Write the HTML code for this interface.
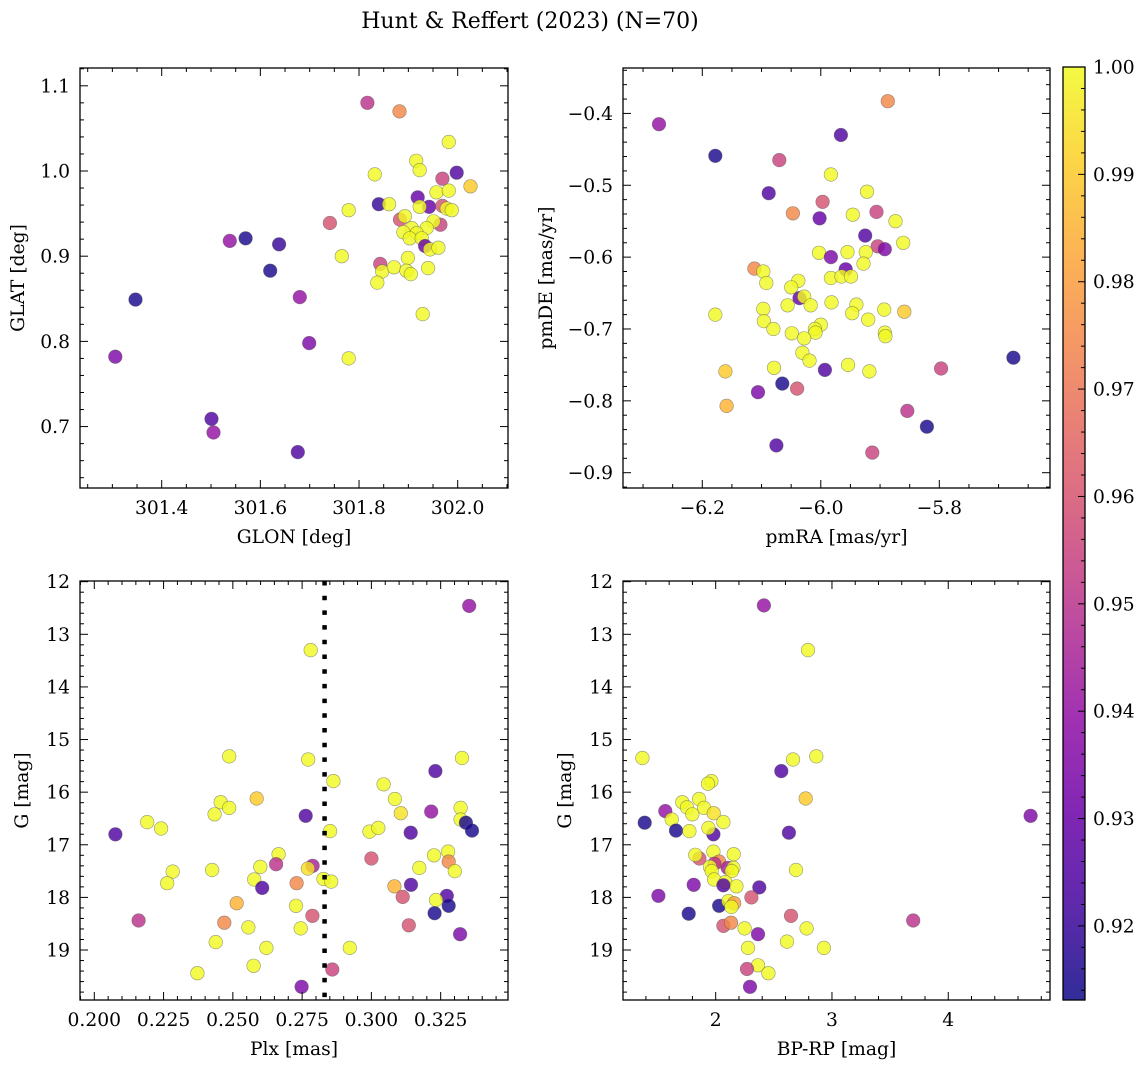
<!DOCTYPE html>
<html><head><meta charset="utf-8"><style>
body{margin:0;background:#fff;}
svg{display:block;font-family:"DejaVu Serif","Liberation Serif",serif;}
</style></head><body>
<svg id="fig" width="1148" height="1067" viewBox="0 0 1148 1067" xmlns="http://www.w3.org/2000/svg">
<text x="530" y="28" font-size="22" text-anchor="middle">Hunt &amp; Reffert (2023) (N=70)</text>
</svg>
<script>
// ---- Panel 1: GLON vs GLAT ----
const glonTL=[301.817,301.882,301.982,301.916,301.923,301.832,301.998,301.969,302.026,301.957,301.982,301.919,301.840,301.861,301.779,301.942,301.969,301.978,301.988,301.923,301.741,301.883,301.893,301.965,301.951,301.907,301.890,301.937,301.917,301.903,301.927,301.538,301.570,301.638,301.934,301.944,301.961,301.765,301.899,301.843,301.620,301.847,301.871,301.896,301.905,301.940,301.837,301.347,301.680,301.929,301.699,301.306,301.779,301.501,301.505,301.676];
const glatTL=[1.080,1.070,1.034,1.012,1.001,0.996,0.998,0.991,0.982,0.975,0.977,0.969,0.961,0.961,0.954,0.958,0.959,0.956,0.954,0.958,0.939,0.943,0.947,0.937,0.941,0.933,0.928,0.933,0.927,0.921,0.921,0.918,0.921,0.914,0.912,0.908,0.910,0.900,0.898,0.891,0.883,0.882,0.887,0.883,0.879,0.886,0.869,0.849,0.852,0.832,0.798,0.782,0.780,0.709,0.693,0.670];
const probTL=[0.950,0.975,1,1,1,1,0.925,0.955,0.99,1,1,0.93,0.92,1,1,0.93,0.96,1,1,1,0.96,0.96,1,0.955,1,1,1,1,1,1,1,0.94,0.915,0.92,0.93,1,1,1,1,0.955,0.915,1,1,1,1,1,1,0.915,0.94,1,0.935,0.935,1,0.925,0.94,0.925];
// ---- Panel 2: pmRA vs pmDE ----
const pmraTR=[-6.273,-6.178,-6.070,-5.887,-5.966,-5.983,-6.088,-5.922,-5.997,-6.047,-6.002,-5.946,-5.906,-5.874,-5.925,-5.904,-5.892,-5.861,-6.003,-5.983,-5.955,-5.924,-5.928,-6.112,-6.097,-5.958,-6.092,-6.038,-5.983,-5.965,-5.949,-6.050,-6.036,-6.028,-6.017,-6.056,-5.982,-6.097,-5.940,-5.947,-5.893,-5.859,-5.920,-6.178,-6.096,-6.080,-6.000,-6.010,-6.009,-6.049,-5.892,-5.891,-6.028,-6.031,-6.019,-5.675,-6.079,-5.993,-5.954,-5.918,-5.797,-6.161,-6.065,-6.040,-6.106,-6.159,-5.854,-5.821,-6.075,-5.913];
const pmdeTR=[-0.415,-0.459,-0.465,-0.383,-0.430,-0.485,-0.511,-0.509,-0.523,-0.539,-0.546,-0.541,-0.537,-0.550,-0.570,-0.585,-0.589,-0.580,-0.594,-0.600,-0.593,-0.593,-0.609,-0.616,-0.620,-0.617,-0.636,-0.633,-0.629,-0.627,-0.627,-0.642,-0.657,-0.655,-0.667,-0.667,-0.663,-0.672,-0.666,-0.678,-0.673,-0.676,-0.687,-0.680,-0.689,-0.700,-0.694,-0.700,-0.705,-0.706,-0.705,-0.710,-0.713,-0.733,-0.744,-0.740,-0.754,-0.757,-0.750,-0.759,-0.755,-0.759,-0.776,-0.783,-0.788,-0.807,-0.814,-0.836,-0.862,-0.872];
const probTR=[0.94,0.915,0.955,0.975,0.925,1,0.925,1,0.96,0.975,0.93,1,0.955,1,0.925,0.955,0.935,1,1,0.935,1,1,1,0.975,1,0.93,1,1,1,1,1,1,0.93,1,1,1,1,1,1,1,1,0.99,1,1,1,1,1,1,1,1,1,1,1,1,1,0.915,1,0.925,1,1,0.955,0.99,0.915,0.96,0.935,0.985,0.95,0.915,0.925,0.955];
// ---- Panel 3: Plx vs G ----
const plxBL=[0.3353,0.2781,0.2487,0.2772,0.3327,0.3231,0.2863,0.3044,0.2586,0.3085,0.2456,0.2487,0.3322,0.2434,0.3106,0.3216,0.2763,0.2191,0.3322,0.3341,0.3363,0.2241,0.2076,0.2851,0.2993,0.3025,0.3142,0.2665,0.3277,0.3226,0.3000,0.2656,0.3279,0.2283,0.2425,0.2599,0.2788,0.2771,0.3173,0.3301,0.2577,0.2827,0.2855,0.2263,0.2730,0.2606,0.3083,0.3143,0.3272,0.3113,0.2514,0.3279,0.3233,0.2728,0.3228,0.2787,0.2160,0.2469,0.3135,0.2556,0.2745,0.3320,0.2438,0.2621,0.2922,0.2575,0.2859,0.2372,0.2748];
const gBL=[12.46,13.30,15.32,15.38,15.35,15.60,15.79,15.85,16.12,16.13,16.19,16.30,16.30,16.42,16.40,16.37,16.45,16.57,16.52,16.58,16.73,16.69,16.80,16.74,16.75,16.68,16.77,17.18,17.13,17.20,17.26,17.37,17.32,17.51,17.48,17.42,17.40,17.45,17.44,17.50,17.66,17.65,17.70,17.73,17.73,17.82,17.79,17.76,17.97,17.99,18.11,18.16,18.05,18.16,18.30,18.35,18.44,18.48,18.53,18.57,18.59,18.70,18.85,18.96,18.96,19.30,19.37,19.44,19.70];
const probBL=[0.94,1,1,1,1,0.925,1,1,0.99,1,1,1,1,1,0.995,0.94,0.925,1,1,0.915,0.915,1,0.925,1,1,1,0.925,1,1,1,0.96,0.95,0.975,1,1,1,0.945,0.995,1,1,1,1,1,1,0.975,0.925,0.985,0.925,0.925,0.96,0.985,0.915,1,1,0.915,0.96,0.95,0.975,0.96,1,1,0.935,1,1,1,1,0.955,1,0.935];
const plxCut=[0.2831];
// ---- Panel 4: BP-RP vs G ----
const bprpBR=[2.415,2.794,1.370,2.865,2.665,2.564,1.963,1.934,2.774,1.857,1.713,1.753,1.900,1.799,1.983,1.567,1.622,2.066,4.708,1.390,1.659,1.774,2.630,1.980,1.937,1.980,2.155,1.860,1.825,2.029,1.989,1.951,2.103,2.152,1.966,2.691,2.138,1.986,2.083,2.178,2.066,1.811,2.375,1.507,2.307,2.029,2.109,2.158,2.135,1.768,2.648,3.699,2.066,2.132,2.249,2.782,2.364,2.613,2.278,2.931,2.364,2.269,2.453,2.295];
const gBR=[12.45,13.30,15.35,15.32,15.38,15.60,15.79,15.84,16.12,16.13,16.19,16.29,16.30,16.42,16.40,16.36,16.52,16.57,16.45,16.58,16.73,16.74,16.77,16.80,16.68,17.13,17.18,17.26,17.19,17.32,17.36,17.42,17.44,17.44,17.50,17.48,17.50,17.66,17.71,17.79,17.77,17.76,17.81,17.97,18.00,18.16,18.07,18.11,18.18,18.31,18.35,18.44,18.54,18.48,18.59,18.59,18.70,18.84,18.96,18.96,19.29,19.36,19.44,19.70];
const probBR=[0.94,1,1,1,1,0.925,1,1,0.99,1,1,1,1,1,0.995,0.94,1,1,0.935,0.915,0.915,1,0.925,0.925,1,1,1,0.96,1,0.975,0.95,1,0.945,1,1,1,1,1,1,1,0.925,0.935,0.925,0.935,0.96,0.915,1,0.98,1,0.915,0.96,0.95,0.96,0.975,1,1,0.935,1,1,1,1,0.955,1,0.935];
// ---- Colorbar ----
const cbTicks=[1.00,0.99,0.98,0.97,0.96,0.95,0.94,0.93,0.92];
const cbRange=[0.9131,1.0];

const NS='http://www.w3.org/2000/svg';
const svg=document.getElementById('fig');
const FS=18.7;
function mk(tag,attrs,parent){const e=document.createElementNS(NS,tag);for(const k in attrs)e.setAttribute(k,attrs[k]);(parent||svg).appendChild(e);return e;}
const plasma=[[13,8,135],[65,4,157],[106,0,168],[143,13,164],[177,42,144],[204,71,120],[225,100,98],[242,132,75],[252,166,54],[252,206,37],[240,249,33]];
function cmap(t){t=Math.max(0,Math.min(1,t))*10;const i=Math.min(9,Math.floor(t)),f=t-i;const a=plasma[i],b=plasma[i+1];return 'rgb('+[0,1,2].map(k=>Math.round(a[k]+(b[k]-a[k])*f)).join(',')+')';}
function pcol(p){return cmap((p-cbRange[0])/(cbRange[1]-cbRange[0]));}

function fmt(v,d){const s=Math.abs(v).toFixed(d);return (v<-1e-9?'\u2212':'')+s;}

function panel(cfg){
  const g=mk('g',{});
  
  
  const sx=v=>cfg.px0+(v-cfg.xmin)/(cfg.xmax-cfg.xmin)*(cfg.px1-cfg.px0);
  const sy=cfg.inv?(v=>cfg.py0+(v-cfg.ymin)/(cfg.ymax-cfg.ymin)*(cfg.py1-cfg.py0)):(v=>cfg.py1-(v-cfg.ymin)/(cfg.ymax-cfg.ymin)*(cfg.py1-cfg.py0));
  const pg=mk('g',{},g);
  
  
  for(let i=0;i<cfg.xs.length;i++){
    const c=mk('circle',{cx:sx(cfg.xs[i]).toFixed(1),cy:sy(cfg.ys[i]).toFixed(1),r:6.8,fill:pcol(cfg.ps[i]),'fill-opacity':0.82,stroke:'#555','stroke-opacity':0.6,'stroke-width':0.6},pg);
    
    
  }
  if(cfg.vline){
    const l=mk('line',{x1:sx(cfg.vline[0]),x2:sx(cfg.vline[0]),y1:cfg.py0,y2:cfg.py1,stroke:'#000','stroke-width':4.5,'stroke-dasharray':'4.5,10.2'},g);
    
    
  }
  const tg=mk('g',{stroke:'#000','stroke-width':1},g);
  
  
  const eps=1e-9;
  function ticksRange(mn,mx,step){const a=[];let s=Math.ceil(mn/step-eps);for(let k=s;k*step<=mx+eps;k++)a.push(k*step);return a;}
  ticksRange(cfg.xmin,cfg.xmax,cfg.xminor).forEach(v=>{const x=sx(v);const maj=Math.abs(v/cfg.xmajor-Math.round(v/cfg.xmajor))<1e-6;const L=maj?8:4;
    mk('line',{x1:x,x2:x,y1:cfg.py1,y2:cfg.py1-L},tg);mk('line',{x1:x,x2:x,y1:cfg.py0,y2:cfg.py0+L},tg);});
  ticksRange(cfg.ymin,cfg.ymax,cfg.yminor).forEach(v=>{const y=sy(v);const maj=Math.abs(v/cfg.ymajor-Math.round(v/cfg.ymajor))<1e-6;const L=maj?8:4;
    mk('line',{x1:cfg.px0,x2:cfg.px0+L,y1:y,y2:y},tg);mk('line',{x1:cfg.px1,x2:cfg.px1-L,y1:y,y2:y},tg);});
  cfg.xlab.forEach(v=>{const t=mk('text',{x:sx(v),y:cfg.py1+26,'font-size':FS,'text-anchor':'middle'},g);t.textContent=fmt(v,cfg.xd);
    });
  cfg.ylab.forEach(v=>{const t=mk('text',{x:cfg.px0-10,y:sy(v)+6.5,'font-size':FS,'text-anchor':'end'},g);t.textContent=fmt(v,cfg.yd);
    });
  const f=mk('rect',{x:cfg.px0,y:cfg.py0,width:cfg.px1-cfg.px0,height:cfg.py1-cfg.py0,fill:'none',stroke:'#000','stroke-width':1.3},g);
  
  const xt=mk('text',{x:(cfg.px0+cfg.px1)/2,y:cfg.py1+55,'font-size':FS,'text-anchor':'middle'},g);xt.textContent=cfg.xtitle;
  
  const yx=cfg.ytx, yy=(cfg.py0+cfg.py1)/2;
  const yt=mk('text',{x:yx,y:yy,'font-size':FS,'text-anchor':'middle',transform:'rotate(-90 '+yx+' '+yy+')'},g);yt.textContent=cfg.ytitle;
  
}

panel({name:'panel-glon-glat',xs:glonTL,ys:glatTL,ps:probTL,px0:80,px1:508,py0:68,py1:488,xmin:301.2344,xmax:302.102,ymin:0.6279,ymax:1.1209,
  xmajor:0.2,xminor:0.05,ymajor:0.1,yminor:0.02,xlab:[301.4,301.6,301.8,302.0],xd:1,ylab:[0.7,0.8,0.9,1.0,1.1],yd:1,xtitle:'GLON [deg]',ytitle:'GLAT [deg]',ytx:24});
panel({name:'panel-pmra-pmde',xs:pmraTR,ys:pmdeTR,ps:probTR,px0:623,px1:1050,py0:68,py1:488,xmin:-6.3338,xmax:-5.6132,ymin:-0.9213,ymax:-0.3368,
  xmajor:0.2,xminor:0.05,ymajor:0.1,yminor:0.02,xlab:[-6.2,-6.0,-5.8],xd:1,ylab:[-0.9,-0.8,-0.7,-0.6,-0.5,-0.4],yd:1,xtitle:'pmRA [mas/yr]',ytitle:'pmDE [mas/yr]',ytx:552});
panel({name:'panel-plx-g',xs:plxBL,ys:gBL,ps:probBL,vline:plxCut,px0:80,px1:508,py0:581,py1:1000,xmin:0.19484,xmax:0.3493,ymin:11.987,ymax:19.95,inv:true,
  xmajor:0.025,xminor:0.005,ymajor:1,yminor:0.2,xlab:[0.200,0.225,0.250,0.275,0.300,0.325],xd:3,ylab:[12,13,14,15,16,17,18,19],yd:0,xtitle:'Plx [mas]',ytitle:'G [mag]',ytx:28});
panel({name:'panel-bprp-g',xs:bprpBR,ys:gBR,ps:probBR,px0:623,px1:1050,py0:581,py1:1000,xmin:1.203,xmax:4.875,ymin:11.987,ymax:19.95,inv:true,
  xmajor:1,xminor:0.2,ymajor:1,yminor:0.2,xlab:[2,3,4],xd:0,ylab:[12,13,14,15,16,17,18,19],yd:0,xtitle:'BP-RP [mag]',ytitle:'G [mag]',ytx:571});

(function(){
  const x0=1063,x1=1085,y0=67,y1=1000;
  const cg=mk('g',{});
  
  
  const defs=mk('defs',{},cg);
  const lg=mk('linearGradient',{id:'cbg',x1:0,y1:1,x2:0,y2:0},defs);
  for(let i=0;i<=20;i++){mk('stop',{offset:(i/20),'stop-color':cmap(i/20),'stop-opacity':0.85},lg);}
  mk('rect',{x:x0,y:y0,width:x1-x0,height:y1-y0,fill:'url(#cbg)',stroke:'#000','stroke-width':1.3},cg);
  const sy=v=>y1-(v-cbRange[0])/(cbRange[1]-cbRange[0])*(y1-y0);
  for(let k=Math.ceil(cbRange[0]/0.002-1e-9);k*0.002<=cbRange[1]+1e-9;k++){const v=k*0.002;const y=sy(v);const maj=(k%5===0);
    mk('line',{x1:x1,x2:x1-(maj?7:4),y1:y,y2:y,stroke:'#000','stroke-width':1},cg);}
  cbTicks.forEach(v=>{const t=mk('text',{x:1093,y:sy(v)+6.5,'font-size':FS},cg);t.textContent=v.toFixed(2);
    });
})();
</script>
</body></html>
